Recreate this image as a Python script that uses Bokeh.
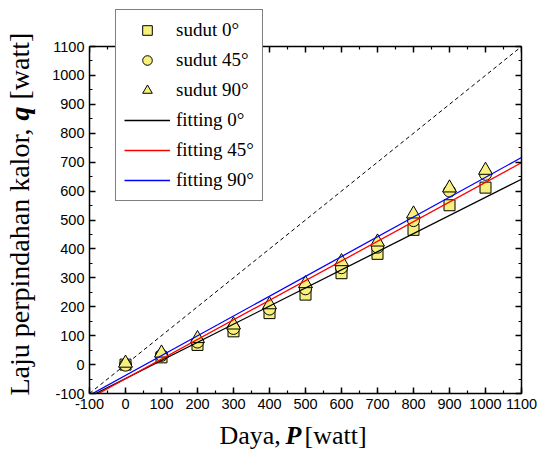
import math
from bokeh.plotting import figure
from bokeh.layouts import row, column
from bokeh.models import (Range1d, LinearAxis, SingleIntervalTicker,
                          Legend, LegendItem)
from bokeh.core.properties import value
from bokeh.embed import file_html
from bokeh.resources import INLINE

# ---- data ----
daya = [0, 100, 200, 300, 400, 500, 600, 700, 800, 900, 1000]
sudut0 = [0, 25, 68, 115, 178, 242, 316, 383, 466, 551, 612]
sudut45 = [-2, 32, 78, 125, 192, 262, 335, 406, 498, 600, 658]
sudut90 = [5, 40, 90, 137, 207, 280, 356, 424, 521, 611, 672]

fit_x = [-100, 1100]
fit0 = [-111, 641]
fit45 = [-117, 698]
fit90 = [-106, 716]
ideal = [-100, 1100]

axis_lo, axis_hi, tick_step = -100, 1100, 100
major_ticks = list(range(axis_lo, axis_hi + 1, tick_step))
minor_ticks = list(range(axis_lo + tick_step // 2, axis_hi, tick_step))

legend_labels = ["sudut 0°", "sudut 45°", "sudut 90°",
                 "fitting 0°", "fitting 45°", "fitting 90°"]
x_title_parts = ["Daya,", "P", "[watt]"]
y_title_parts = ["Laju perpindahan kalor,", "q", "[watt]"]

marker_fill = "#F7F07C"

# ---- layout (pixels) ----
YLAB_W = 40
MAIN_W, MAIN_H = 498, 420
XLAB_H = 31
TOTAL_H = MAIN_H + XLAB_H
frame_left, frame_right = 49, 17
frame_top, frame_bottom = 8, 27
px_per_unit = (393 - 46) / (axis_hi - axis_lo)
y_end = axis_hi + (46 - frame_top) / px_per_unit

p = figure(width=MAIN_W, height=MAIN_H,
           x_range=Range1d(axis_lo, axis_hi), y_range=Range1d(axis_lo, y_end),
           output_backend="svg", toolbar_location=None,
           x_axis_type=None, y_axis_type=None,
           min_border_left=frame_left, min_border_right=frame_right,
           min_border_top=frame_top, min_border_bottom=frame_bottom)
p.outline_line_color = None
p.background_fill_color = "white"
p.border_fill_color = "white"


def make_axis(show_labels, bounded):
    ax = LinearAxis(ticker=SingleIntervalTicker(interval=tick_step, num_minor_ticks=2))
    if bounded:
        ax.bounds = (axis_lo, axis_hi)
    ax.axis_line_color = "black"
    ax.axis_line_width = 1.5
    ax.major_tick_in = 6
    ax.major_tick_out = 0
    ax.minor_tick_in = 3
    ax.minor_tick_out = 0
    ax.major_tick_line_width = 1.5
    ax.minor_tick_line_width = 1.2
    ax.major_tick_line_color = "black"
    ax.minor_tick_line_color = "black"
    ax.major_label_text_font = "Liberation Sans"
    if show_labels:
        ax.major_label_text_color = "black"
        ax.major_label_text_font_size = "14.5px"
        ax.major_label_standoff = 5
        ax.major_label_overrides = {axis_lo: str(axis_lo)}
    else:
        ax.major_label_text_color = None
        ax.major_label_text_font_size = "1px"
        ax.major_label_standoff = 0
    return ax


p.add_layout(make_axis(True, False), "below")
p.add_layout(make_axis(True, True), "left")
p.add_layout(make_axis(False, True), "right")

# top border with inward ticks (mirror of the bottom axis)
p.line([axis_lo, axis_hi], [axis_hi, axis_hi], line_color="black", line_width=1.5)
p.ray(x=major_ticks, y=axis_hi, length=6, length_units="screen",
      angle=-math.pi / 2, line_color="black", line_width=1.5)
p.ray(x=minor_ticks, y=axis_hi, length=3, length_units="screen",
      angle=-math.pi / 2, line_color="black", line_width=1.2)

# dashed ideal line
p.line(fit_x, ideal, line_color="black", line_width=1, line_dash="4 3")

# markers
r_sq = p.scatter(daya, sudut0, marker="square", size=11, fill_color=marker_fill,
                 line_color="black", line_width=1)
r_ci = p.scatter(daya, sudut45, marker="circle", size=12, fill_color=marker_fill,
                 line_color="black", line_width=1)
r_tr = p.scatter(daya, sudut90, marker="triangle", size=14, fill_color=marker_fill,
                 line_color="black", line_width=1)

# fitting lines
r_f0 = p.line(fit_x, fit0, line_color="black", line_width=1.3)
r_f45 = p.line(fit_x, fit45, line_color="red", line_width=1.3)
r_f90 = p.line(fit_x, fit90, line_color="blue", line_width=1.3)

legend = Legend(items=[
    LegendItem(label=lab, renderers=[r])
    for lab, r in zip(legend_labels, [r_sq, r_ci, r_tr, r_f0, r_f45, r_f90])
], location=(26, 393 - 201))
legend.label_text_font = "Liberation Serif"
legend.label_text_font_size = "19px"
legend.label_text_color = "black"
legend.glyph_width = 46
legend.glyph_height = 24
legend.label_height = 24
legend.spacing = 6
legend.padding = 8
legend.margin = 0
legend.label_standoff = 6
legend.border_line_color = "black"
legend.border_line_width = 1
legend.background_fill_color = "white"
legend.background_fill_alpha = 1.0
p.add_layout(legend)


def label_fig(w, h, xr):
    f = figure(width=w, height=h, x_range=xr, y_range=Range1d(0, h),
               output_backend="svg", toolbar_location=None,
               x_axis_type=None, y_axis_type=None,
               min_border_left=0, min_border_right=0,
               min_border_top=0, min_border_bottom=0)
    f.outline_line_color = None
    f.background_fill_color = "white"
    f.border_fill_color = "white"
    return f


styles = ["normal", "bold italic", "normal"]

# x axis title: "Daya, P[watt]"  (its frame is aligned with the main frame,
# so its x range is expressed in page pixels of that frame: 89..521)
fx = label_fig(MAIN_W, XLAB_H, Range1d(89, 521))
x_starts = [219, 285, 304]
for txt, sx, st in zip(x_title_parts, x_starts, styles):
    fx.text(x=[sx], y=[16], text=[txt],
            text_font=value("Liberation Serif"), text_font_size=value("26px"),
            text_font_style=value(st), text_color="black",
            text_align=value("left"), text_baseline=value("alphabetic"))

# y axis title: "Laju perpindahan kalor, q [watt]"
fy = label_fig(YLAB_W, TOTAL_H, Range1d(0, YLAB_W))
y_starts = [TOTAL_H - 395, TOTAL_H - 395 + 275, TOTAL_H - 395 + 296]
for txt, sy, st in zip(y_title_parts, y_starts, styles):
    fy.text(x=[18.5], y=[sy], text=[txt], angle=math.pi / 2,
            text_font=value("Liberation Serif"), text_font_size=value("28px"),
            text_font_style=value(st), text_color="black",
            text_align=value("left"), text_baseline=value("alphabetic"))

layout = row(fy, column(p, fx))
open("out.html", "w").write(file_html(layout, INLINE))
